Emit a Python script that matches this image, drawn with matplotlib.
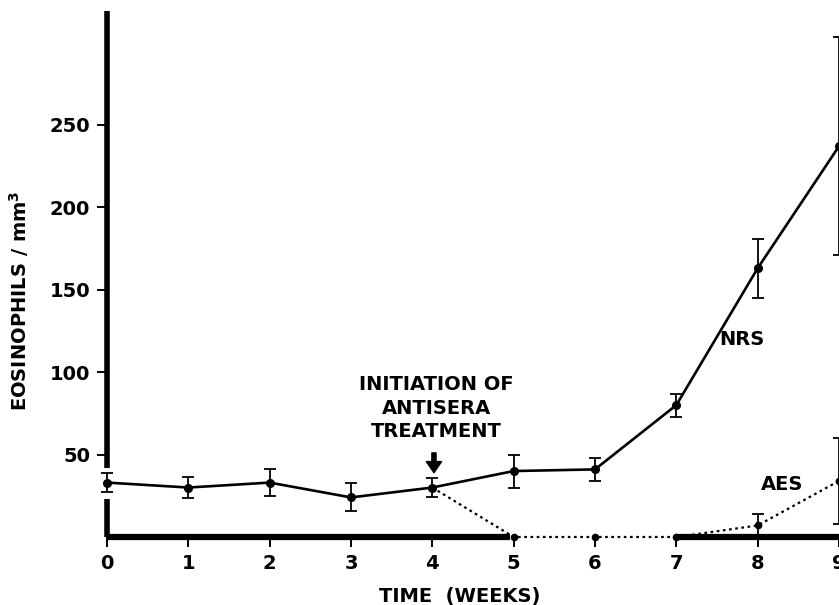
import matplotlib
matplotlib.use("Agg")
import matplotlib.pyplot as plt

weeks = [0, 1, 2, 3, 4, 5, 6, 7, 8, 9]
nrs = [33, 30, 33, 24, 30, 40, 41, 80, 163, 237]
nrs_err = [6, 6.5, 8, 8.5, 5.5, 10, 7, 7, 18, 66]

aes_weeks = [4, 5, 6, 7, 8, 9]
aes = [30, 0, 0, 0, 7, 34]
aes_err_weeks = [8, 9]
aes_err_vals = [7, 34]
aes_err = [7, 26]

y_ticks = [50, 100, 150, 200, 250]

plt.rcParams['font.family'] = ['DejaVu Sans']
plt.rcParams['font.weight'] = 'bold'
plt.rcParams['axes.labelweight'] = 'bold'

fig = plt.figure(figsize=(8.39, 6.05), dpi=100)
ax = fig.add_axes([107 / 839, 68 / 605, 1 - 107 / 839, 526 / 605])
ax.set_xlim(0, 9)
ax.set_ylim(0, 319)

# NRS series
ax.errorbar(weeks, nrs, yerr=nrs_err, color='black', lw=1.9, marker='o', ms=5.5,
            capsize=4, elinewidth=1.3, capthick=1.3, clip_on=False, zorder=4)

# AES series
ax.plot(aes_weeks, aes, color='black', ls=(0, (1.2, 1.6)), lw=1.6, marker='o',
        ms=4.5, clip_on=False, zorder=4)
ax.errorbar(aes_err_weeks, aes_err_vals, yerr=aes_err, fmt='none', ecolor='black',
            capsize=4, elinewidth=1.3, capthick=1.3, clip_on=False, zorder=4)

# hand-drawn axes, with breaks as in the original
for s in ax.spines.values():
    s.set_visible(False)
ax.vlines(0, 0, 23, color='black', lw=4, clip_on=False, zorder=3)
ax.vlines(0, 42, 319, color='black', lw=4, clip_on=False, zorder=3)
ax.hlines(0, 0, 4.95, color='black', lw=4.5, clip_on=False, zorder=3)
ax.hlines(0, 7, 9, color='black', lw=4.5, clip_on=False, zorder=3)

ax.set_xticks(weeks)
ax.set_yticks(y_ticks)
ax.tick_params(axis='both', direction='out', length=7, width=1.4, labelsize=14, pad=5)

ax.set_xlabel('TIME  (WEEKS)', fontsize=14)
ax.xaxis.set_label_coords(0.482, -0.095)
ax.set_ylabel('EOSINOPHILS / mm$^\\mathbf{3}$', fontsize=14)
ax.yaxis.set_label_coords(-0.104, 0.45)

ax.annotate('', xy=(4.02, 39), xytext=(4.02, 51),
            arrowprops=dict(width=3, headwidth=11, headlength=8, color='black'))
ax.text(4.05, 78, 'INITIATION OF\nANTISERA\nTREATMENT', ha='center', va='center',
        fontsize=14, linespacing=1.3)

ax.text(7.8, 120, 'NRS', fontsize=14, ha='center', va='center')
ax.text(8.3, 32, 'AES', fontsize=14, ha='center', va='center')

fig.savefig('out.png', dpi=100)
